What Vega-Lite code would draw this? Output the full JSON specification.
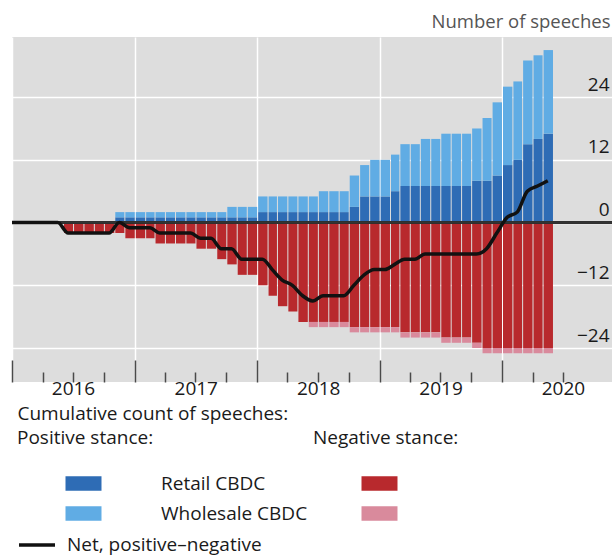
{
  "$schema": "https://vega.github.io/schema/vega-lite/v6.json",
  "width": 600,
  "height": 345,
  "autosize": {"type": "none"},
  "padding": {"left": 12, "top": 37, "right": 3, "bottom": 174},
  "background": "white",
  "config": {
    "font": "Open Sans",
    "view": {"fill": "#dddddd", "stroke": null},
    "legend": {"padding": 0, "labelFontSize": 19, "titleFontSize": 19, "titleFontWeight": "normal", "labelColor": "#1a1a1a", "titleColor": "#1a1a1a", "labelFont": "Open Sans", "titleFont": "Open Sans", "labelLimit": 400, "titleLimit": 400}
  },
  "data": {
    "values": [
      {"month": "2015-12", "pr": 0, "pw": 0, "nr": 0, "nw": 0, "net": 0},
      {"month": "2016-01", "pr": 0, "pw": 0, "nr": 0, "nw": 0, "net": 0},
      {"month": "2016-02", "pr": 0, "pw": 0, "nr": 0, "nw": 0, "net": 0},
      {"month": "2016-03", "pr": 0, "pw": 0, "nr": 0, "nw": 0, "net": 0},
      {"month": "2016-04", "pr": 0, "pw": 0, "nr": 0, "nw": 0, "net": 0},
      {"month": "2016-05", "pr": 0, "pw": 0, "nr": 0, "nw": 0, "net": 0},
      {"month": "2016-06", "pr": 0, "pw": 0, "nr": -2, "nw": 0, "net": -2},
      {"month": "2016-07", "pr": 0, "pw": 0, "nr": -2, "nw": 0, "net": -2},
      {"month": "2016-08", "pr": 0, "pw": 0, "nr": -2, "nw": 0, "net": -2},
      {"month": "2016-09", "pr": 0, "pw": 0, "nr": -2, "nw": 0, "net": -2},
      {"month": "2016-10", "pr": 0, "pw": 0, "nr": -2, "nw": 0, "net": -2},
      {"month": "2016-11", "pr": 1, "pw": 1, "nr": -2, "nw": 0, "net": 0},
      {"month": "2016-12", "pr": 1, "pw": 1, "nr": -3, "nw": 0, "net": -1},
      {"month": "2017-01", "pr": 1, "pw": 1, "nr": -3, "nw": 0, "net": -1},
      {"month": "2017-02", "pr": 1, "pw": 1, "nr": -3, "nw": 0, "net": -1},
      {"month": "2017-03", "pr": 1, "pw": 1, "nr": -4, "nw": 0, "net": -2},
      {"month": "2017-04", "pr": 1, "pw": 1, "nr": -4, "nw": 0, "net": -2},
      {"month": "2017-05", "pr": 1, "pw": 1, "nr": -4, "nw": 0, "net": -2},
      {"month": "2017-06", "pr": 1, "pw": 1, "nr": -4, "nw": 0, "net": -2},
      {"month": "2017-07", "pr": 1, "pw": 1, "nr": -5, "nw": 0, "net": -3},
      {"month": "2017-08", "pr": 1, "pw": 1, "nr": -5, "nw": 0, "net": -3},
      {"month": "2017-09", "pr": 1, "pw": 1, "nr": -7, "nw": 0, "net": -5},
      {"month": "2017-10", "pr": 1, "pw": 2, "nr": -8, "nw": 0, "net": -5},
      {"month": "2017-11", "pr": 1, "pw": 2, "nr": -10, "nw": 0, "net": -7},
      {"month": "2017-12", "pr": 1, "pw": 2, "nr": -10, "nw": 0, "net": -7},
      {"month": "2018-01", "pr": 2, "pw": 3, "nr": -12, "nw": 0, "net": -7},
      {"month": "2018-02", "pr": 2, "pw": 3, "nr": -14, "nw": 0, "net": -9},
      {"month": "2018-03", "pr": 2, "pw": 3, "nr": -16, "nw": 0, "net": -11},
      {"month": "2018-04", "pr": 2, "pw": 3, "nr": -17, "nw": 0, "net": -12},
      {"month": "2018-05", "pr": 2, "pw": 3, "nr": -19, "nw": 0, "net": -14},
      {"month": "2018-06", "pr": 2, "pw": 3, "nr": -19, "nw": -1, "net": -15},
      {"month": "2018-07", "pr": 2, "pw": 4, "nr": -19, "nw": -1, "net": -14},
      {"month": "2018-08", "pr": 2, "pw": 4, "nr": -19, "nw": -1, "net": -14},
      {"month": "2018-09", "pr": 2, "pw": 4, "nr": -19, "nw": -1, "net": -14},
      {"month": "2018-10", "pr": 3, "pw": 6, "nr": -20, "nw": -1, "net": -12},
      {"month": "2018-11", "pr": 5, "pw": 6, "nr": -20, "nw": -1, "net": -10},
      {"month": "2018-12", "pr": 5, "pw": 7, "nr": -20, "nw": -1, "net": -9},
      {"month": "2019-01", "pr": 5, "pw": 7, "nr": -20, "nw": -1, "net": -9},
      {"month": "2019-02", "pr": 6, "pw": 7, "nr": -20, "nw": -1, "net": -8},
      {"month": "2019-03", "pr": 7, "pw": 8, "nr": -21, "nw": -1, "net": -7},
      {"month": "2019-04", "pr": 7, "pw": 8, "nr": -21, "nw": -1, "net": -7},
      {"month": "2019-05", "pr": 7, "pw": 9, "nr": -21, "nw": -1, "net": -6},
      {"month": "2019-06", "pr": 7, "pw": 9, "nr": -21, "nw": -1, "net": -6},
      {"month": "2019-07", "pr": 7, "pw": 10, "nr": -22, "nw": -1, "net": -6},
      {"month": "2019-08", "pr": 7, "pw": 10, "nr": -22, "nw": -1, "net": -6},
      {"month": "2019-09", "pr": 7, "pw": 10, "nr": -22, "nw": -1, "net": -6},
      {"month": "2019-10", "pr": 8, "pw": 10, "nr": -23, "nw": -1, "net": -6},
      {"month": "2019-11", "pr": 8, "pw": 12, "nr": -24, "nw": -1, "net": -5},
      {"month": "2019-12", "pr": 9, "pw": 14, "nr": -24, "nw": -1, "net": -2},
      {"month": "2020-01", "pr": 11, "pw": 15, "nr": -24, "nw": -1, "net": 1},
      {"month": "2020-02", "pr": 12, "pw": 15, "nr": -24, "nw": -1, "net": 2},
      {"month": "2020-03", "pr": 15, "pw": 16, "nr": -24, "nw": -1, "net": 6},
      {"month": "2020-04", "pr": 16, "pw": 16, "nr": -24, "nw": -1, "net": 7},
      {"month": "2020-05", "pr": 17, "pw": 16, "nr": -24, "nw": -1, "net": 8}
    ]
  },
  "layer": [
    {
      "transform": [{"fold": ["pr", "pw"], "as": ["kind", "count"]}],
      "mark": {"type": "bar", "binSpacing": 1, "clip": true},
      "encoding": {
        "x": {
          "field": "month", "timeUnit": "utcyearmonth", "type": "temporal",
          "scale": {"type": "utc", "domain": [{"year": 2016, "month": 1, "date": 1, "utc": true}, {"year": 2020, "month": 11, "date": 24, "utc": true}]},
          "axis": {
            "orient": "bottom",
            "values": [
              {"year": 2016, "month": 1, "date": 1, "utc": true},
              {"year": 2017, "month": 1, "date": 1, "utc": true},
              {"year": 2018, "month": 1, "date": 1, "utc": true},
              {"year": 2019, "month": 1, "date": 1, "utc": true},
              {"year": 2020, "month": 1, "date": 1, "utc": true}
            ],
            "format": "%Y",
            "labelOffset": 61,
            "labelFlush": false,
            "labelOverlap": false,
            "labelPadding": 19,
            "labelFontSize": 19,
            "labelColor": "#1a1a1a",
            "tickSize": -22,
            "tickColor": "#4a4a4a",
            "tickWidth": 1.5,
            "grid": true,
            "gridColor": "white",
            "gridWidth": 1.5,
            "domain": false,
            "title": "Cumulative count of speeches:",
            "titleX": 5,
            "titleY": 31,
            "titleAnchor": "start",
            "titleAlign": "left",
            "titleBaseline": "middle",
            "titleFontWeight": "normal",
            "titleFontSize": 19,
            "titleColor": "#1a1a1a"
          }
        },
        "y": {
          "field": "count", "type": "quantitative", "stack": "zero",
          "scale": {"domain": [-30.5, 35.5], "nice": false, "zero": false},
          "axis": {
            "orient": "right",
            "values": [-24, -12, 0, 12, 24],
            "grid": true, "gridColor": "white", "gridWidth": 1.5,
            "domain": false, "ticks": false, "tickSize": 0,
            "labelAlign": "right", "labelPadding": -3, "labelBaseline": "bottom", "labelOffset": -3,
            "labelFontSize": 19, "labelColor": "#1a1a1a",
            "title": "Number of speeches",
            "titleAngle": 0, "titleAlign": "right", "titleBaseline": "middle",
            "titleX": -2, "titleY": -16,
            "titleFontWeight": "normal", "titleFontSize": 18.5, "titleColor": "#555555"
          }
        },
        "color": {
          "field": "kind", "type": "nominal",
          "scale": {"domain": ["pr", "pw"], "range": ["#2e6cb5", "#60ace4"]},
          "legend": {
            "title": "Positive stance:",
            "orient": "none", "legendX": 5, "legendY": 392,
            "direction": "vertical",
            "symbolType": "M4.333,-0.8H8.333V0.8H4.333Z",
            "symbolSize": 324, "symbolStrokeWidth": 0, "symbolOpacity": 1,
            "labelOffset": 125, "rowPadding": 10, "titlePadding": 26,
            "labelExpr": "datum.value == 'pr' ? 'Retail CBDC' : 'Wholesale CBDC'"
          }
        },
        "order": {"field": "kind", "type": "ordinal", "sort": "ascending"}
      }
    },
    {
      "transform": [{"fold": ["nr", "nw"], "as": ["kind", "count"]}],
      "mark": {"type": "bar", "binSpacing": 1, "clip": true},
      "encoding": {
        "x": {"field": "month", "timeUnit": "utcyearmonth", "type": "temporal", "axis": null},
        "y": {"field": "count", "type": "quantitative", "stack": "zero"},
        "color": {
          "field": "kind", "type": "nominal",
          "scale": {"domain": ["nr", "nw"], "range": ["#b8292d", "#d98a9c"]},
          "legend": {
            "title": "Negative stance:",
            "orient": "none", "legendX": 301, "legendY": 392,
            "direction": "vertical",
            "symbolType": "M4.333,-0.8H8.333V0.8H4.333Z",
            "symbolSize": 324, "symbolStrokeWidth": 0, "symbolOpacity": 1,
            "labelOffset": 125, "rowPadding": 10, "titlePadding": 26,
            "labelExpr": "''"
          }
        },
        "order": {"field": "kind", "type": "ordinal", "sort": "ascending"}
      }
    },
    {
      "mark": {"type": "rule", "color": "#333333", "strokeWidth": 1.5},
      "encoding": {"y": {"datum": 0}}
    },
    {
      "mark": {"type": "line", "interpolate": "monotone", "strokeWidth": 3.5, "clip": true},
      "encoding": {
        "x": {
          "field": "month", "timeUnit": "utcyearmonth", "type": "temporal", "bandPosition": 0.5,
          "axis": {
            "orient": "bottom",
            "values": [
              {"year": 2016, "month": 4, "date": 1, "utc": true}, {"year": 2016, "month": 7, "date": 1, "utc": true}, {"year": 2016, "month": 10, "date": 1, "utc": true},
              {"year": 2017, "month": 4, "date": 1, "utc": true}, {"year": 2017, "month": 7, "date": 1, "utc": true}, {"year": 2017, "month": 10, "date": 1, "utc": true},
              {"year": 2018, "month": 4, "date": 1, "utc": true}, {"year": 2018, "month": 7, "date": 1, "utc": true}, {"year": 2018, "month": 10, "date": 1, "utc": true},
              {"year": 2019, "month": 4, "date": 1, "utc": true}, {"year": 2019, "month": 7, "date": 1, "utc": true}, {"year": 2019, "month": 10, "date": 1, "utc": true},
              {"year": 2020, "month": 4, "date": 1, "utc": true}, {"year": 2020, "month": 7, "date": 1, "utc": true}
            ],
            "labels": false,
            "grid": false,
            "domain": false,
            "tickSize": -10,
            "tickColor": "#4a4a4a",
            "tickWidth": 1.5,
            "title": null
          }
        },
        "y": {"field": "net", "type": "quantitative"},
        "stroke": {
          "datum": "Net, positive–negative", "type": "nominal",
          "scale": {"range": ["#111111"]},
          "legend": {
            "title": null,
            "orient": "none", "legendX": 5, "legendY": 488,
            "symbolType": "stroke", "symbolSize": 1296, "symbolStrokeWidth": 3.5,
            "labelOffset": 10
          }
        }
      }
    }
  ],
  "resolve": {"scale": {"color": "independent"}, "axis": {"x": "independent"}}
}
